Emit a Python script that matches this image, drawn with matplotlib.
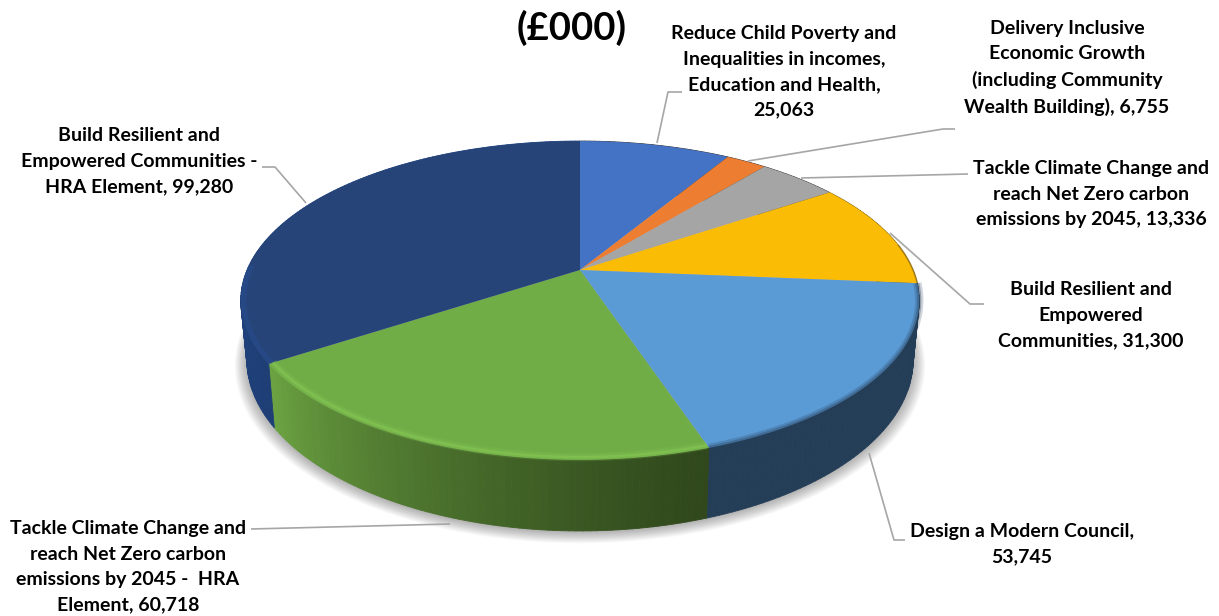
import numpy as np
import matplotlib
matplotlib.use("Agg")
import matplotlib.pyplot as plt
from matplotlib.collections import PolyCollection, LineCollection

# Capital programme by priority, in thousands of pounds (clockwise from 12 o'clock)
labels = [
    "Reduce Child Poverty and\nInequalities in incomes,\nEducation and Health,\n25,063",
    "Delivery Inclusive\nEconomic Growth\n(including Community\nWealth Building), 6,755",
    "Tackle Climate Change and\nreach Net Zero carbon\nemissions by 2045, 13,336",
    "Build Resilient and\nEmpowered\nCommunities, 31,300",
    "Design a Modern Council,\n53,745",
    "Tackle Climate Change and\nreach Net Zero carbon\nemissions by 2045 -  HRA\nElement, 60,718",
    "Build Resilient and\nEmpowered Communities -\nHRA Element, 99,280",
]
values = [25063, 6755, 13336, 31300, 53745, 60718, 99280]
top_colors = ["#4472C4", "#ED7D31", "#A5A5A5", "#FBBC05", "#5B9BD5", "#70AD47", "#264478"]
title = "(£000)"

# Label centres and leader-line routes, in figure pixels
label_pos = [(784, 72), (1067, 68), (1091, 194), (1091, 315), (1022, 544), (128, 567), (139, 161)]
leaders = [
    [(657, 143), (668, 92), (682, 92)],
    [(748, 161), (943, 129), (955, 129)],
    [(801, 178), (968, 174)],
    [(890, 233), (970, 304), (984, 304)],
    [(869, 453), (894, 540), (905, 540)],
    [(450, 524), (251, 529)],
    [(306, 203), (275, 167), (262, 167)],
]

CX, CY = 580, 270
PERSP = 0.191


def top_face(theta, r=1.0):
    """Project a clockwise-from-top angle onto the upper disc."""
    u, v = r * np.sin(theta), r * np.cos(theta)
    w = 1 + PERSP * v
    return CX + 333 * u / w, CY - 153.6 * v / w


def base_face(theta):
    """Project the same angle onto the lower disc of the cylinder."""
    u, v = np.sin(theta), np.cos(theta)
    w = 1 + PERSP * v
    return CX + 327 * u / w, 327 - 165 * v / w


def lerp(a, b, t):
    return tuple((1 - t) * np.array(a) + t * np.array(b))


def rgb(r, g, b):
    return (r / 255, g / 255, b / 255)


def side_color(i, t):
    """Wall shade for wedge i at fraction t along its arc."""
    if i == 5:
        return lerp(rgb(48, 72, 28), rgb(108, 164, 66), t ** 1.25)
    if i == 6:
        return lerp(rgb(30, 62, 118), rgb(36, 72, 138), t)
    if i == 4:
        return rgb(37, 62, 88)
    if i == 3:
        return rgb(120, 90, 10)
    return rgb(60, 60, 60)


fig = plt.figure(figsize=(12.19, 6.16), dpi=100)
ax = fig.add_axes([0, 0, 1, 1])
ax.set_xlim(0, 1219)
ax.set_ylim(616, 0)
ax.axis("off")

edges = np.radians(np.concatenate([[0], np.cumsum(values)]) / np.sum(values) * 360)

# Soft ground shadow built from stacked translucent outlines
ring = np.linspace(0, 2 * np.pi, 361)
bx, by = base_face(ring)
for k in range(14):
    s = 1 + 0.0028 * k
    ax.fill(580 + (bx - 580) * s, 345 + (by - 345) * s + 1 + 0.35 * k,
            color="black", alpha=0.022, lw=0, zorder=1)

# Cylinder wall, one narrow quad per angular step
for i in range(len(values)):
    n = max(int(np.degrees(edges[i + 1] - edges[i])), 2)
    th = np.linspace(edges[i], edges[i + 1], n + 1)
    tx, ty = top_face(th)
    lx, ly = base_face(th)
    quads = [[(tx[j], ty[j]), (tx[j + 1], ty[j + 1]), (lx[j + 1], ly[j + 1]), (lx[j], ly[j])]
             for j in range(n)]
    cols = [side_color(i, (j + 0.5) / n) for j in range(n)]
    ax.add_collection(PolyCollection(quads, facecolors=cols, edgecolors=cols, linewidths=0.6, zorder=2))

# Upper face of each wedge
for i, c in enumerate(top_colors):
    th = np.linspace(edges[i], edges[i + 1], 120)
    x, y = top_face(th)
    ax.fill(np.r_[CX, x], np.r_[CY, y], color=c, lw=0, zorder=3)

# Soft bevel along the front rim of the disc
rims = {
    4: [(1.0, rgb(37, 62, 88), 0.22, 6.0), (1.0, rgb(37, 62, 88), 0.35, 3.0)],
    5: [(0.988, rgb(134, 200, 84), 0.18, 6.0), (0.988, rgb(134, 200, 84), 0.25, 3.5),
        (0.988, rgb(146, 214, 92), 0.3, 1.6)],
    6: [(0.992, rgb(40, 84, 160), 0.3, 4.0)],
    3: [(1.0, rgb(140, 105, 20), 0.6, 1.2)],
}
for i, layers in rims.items():
    th = np.linspace(edges[i], edges[i + 1], 160)
    if i == 6:
        th = th[th < np.radians(272)]
    if i == 3:
        th = th[th > np.radians(80)]
    for r, col, alpha, lw in layers:
        x, y = top_face(th, r)
        ax.plot(x, y, color=col, alpha=alpha, lw=lw, solid_capstyle="butt", zorder=4)

# Leader lines
ax.add_collection(LineCollection(leaders, colors="#A6A6A6", linewidths=1.2, zorder=5))

# Labels and heading
for text, (x, y) in zip(labels, label_pos):
    ax.text(x, y, text, family="Lato", weight="bold", fontsize=14, color="black",
            ha="center", va="center", linespacing=1.6, zorder=6)
ax.text(572, 28, title, family="Lato", weight="bold", fontsize=27.5, color="black",
        ha="center", va="center", zorder=6)

fig.savefig("out.png", dpi=100, facecolor="white")
